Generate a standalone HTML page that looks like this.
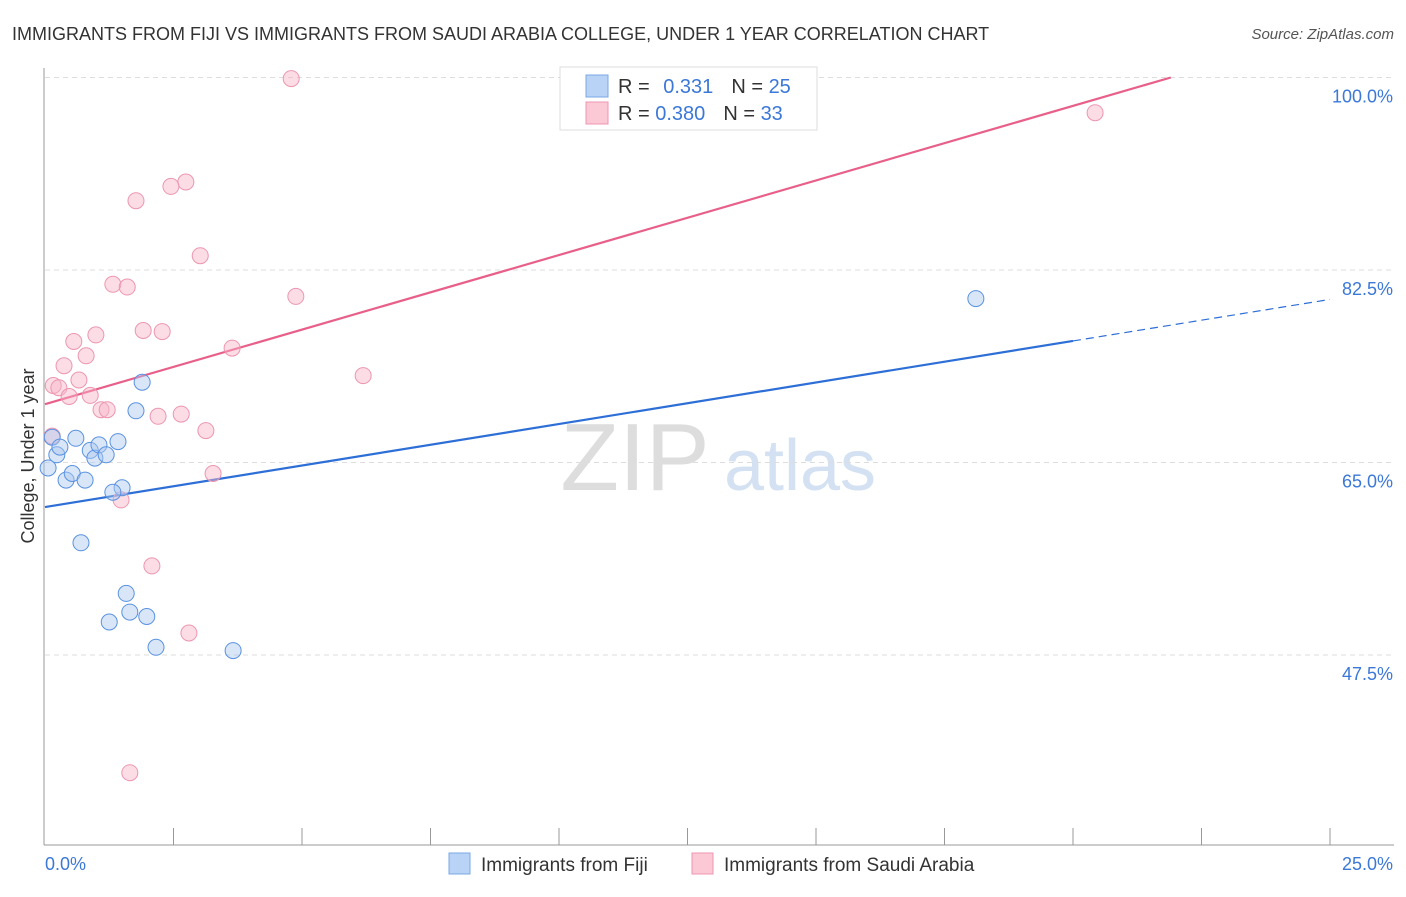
<!DOCTYPE html>
<html><head><meta charset="utf-8"><style>
body{margin:0;background:#fff;width:1406px;height:892px;overflow:hidden;font-family:"Liberation Sans",sans-serif}
text{font-family:"Liberation Sans",sans-serif}
</style></head><body>
<svg id="chart" width="1406" height="892">
<text x="12" y="40" font-size="18" fill="#333">IMMIGRANTS FROM FIJI VS IMMIGRANTS FROM SAUDI ARABIA COLLEGE, UNDER 1 YEAR CORRELATION CHART</text>
<text x="1394" y="39" font-size="15" fill="#555" font-style="italic" text-anchor="end">Source: ZipAtlas.com</text>
<g>
<text x="635" y="490" font-size="96" fill="#ddd" text-anchor="middle" font-family="Liberation Serif">ZIP</text>
<text x="800" y="490" font-size="72" fill="#d3e1f3" text-anchor="middle">atlas</text>
</g>
<g id="grid"></g><g id="axes"></g><g id="lines"></g><g id="pts"></g>
<text transform="translate(34,456) rotate(-90)" font-size="18" fill="#333" text-anchor="middle">College, Under 1 year</text>
<g>
<rect x="560" y="67" width="257" height="63" fill="#fff" stroke="#ddd"/>
<rect x="586" y="75" width="22" height="22" fill="#b8d3f5" stroke="#7aa8e6"/>
<rect x="586" y="102" width="22" height="22" fill="#fbc8d6" stroke="#ec96b0"/>
<text x="618" y="93" font-size="20" fill="#333">R = <tspan fill="#3b78d8" dx="8">0.331</tspan><tspan dx="18" fill="#333">N = </tspan><tspan fill="#3b78d8">25</tspan></text>
<text x="618" y="120" font-size="20" fill="#333">R = <tspan fill="#3b78d8">0.380</tspan><tspan dx="18" fill="#333">N = </tspan><tspan fill="#3b78d8">33</tspan></text>
</g>
<g>
<rect x="449" y="853" width="21" height="21" fill="#b8d3f5" stroke="#7aa8e6"/>
<text x="481" y="871" font-size="19" fill="#333">Immigrants from Fiji</text>
<rect x="692" y="853" width="21" height="21" fill="#fbc8d6" stroke="#ec96b0"/>
<text x="724" y="871" font-size="19" fill="#333">Immigrants from Saudi Arabia</text>
</g>
</svg>
<script>
const yTicks=[47.5,65.0,82.5,100.0];
const xTickLabels=["0.0%","25.0%"];
const fijiX=[0.06,0.14,0.23,0.41,0.53,0.60,0.78,0.88,0.97,1.05,1.19,1.42,1.50,1.32,1.89,1.77,0.70,1.58,1.25,1.65,1.98,2.16,3.66,18.11,0.29];
const fijiY=[64.5,67.3,65.7,63.4,64.0,67.2,63.4,66.1,65.4,66.6,65.7,66.9,62.7,62.3,72.3,69.7,57.7,53.1,50.5,51.4,51.0,48.2,47.9,79.9,66.4];
const saudiX=[4.79,20.43,2.74,2.45,1.77,3.02,1.32,1.60,4.88,1.91,2.28,0.99,0.56,0.80,3.64,0.37,6.19,0.66,0.16,0.27,0.88,0.47,1.09,1.21,2.20,2.65,3.13,0.14,3.27,1.48,2.08,2.80,1.65];
const saudiY=[99.9,96.8,90.5,90.1,88.8,83.8,81.2,80.95,80.1,77.0,76.9,76.6,76.0,74.7,75.4,73.8,72.9,72.5,72.0,71.8,71.1,71.0,69.8,69.8,69.2,69.4,67.9,67.4,64.0,61.6,55.6,49.5,36.8];
const fijiTrend=[60.95,0.755];
const saudiTrend=[70.3,1.356];
const NS="http://www.w3.org/2000/svg";
const X=v=>45+v/25*1285;
const Y=v=>77.5+(100-v)*11;
function mk(tag,attrs,parent){const e=document.createElementNS(NS,tag);for(const k in attrs)e.setAttribute(k,attrs[k]);document.getElementById(parent).appendChild(e);return e;}
yTicks.forEach(t=>{
 const l=mk('line',{x1:45,x2:1394,y1:Y(t),y2:Y(t),stroke:'#ddd','stroke-dasharray':'5,4'},'grid');
 
 
 const tx=mk('text',{x:1393,y:Y(t)+25,'font-size':18,fill:'#3b78d8','text-anchor':'end'},'grid');
 tx.textContent=t.toFixed(1)+'%';
 
 
});
const ax=mk('line',{x1:44,x2:44,y1:68,y2:845,stroke:'#999'},'axes');


const bx=mk('line',{x1:44,x2:1394,y1:845,y2:845,stroke:'#999'},'axes');


for(let i=1;i<=10;i++){
 const t=mk('line',{x1:X(i*2.5),x2:X(i*2.5),y1:828,y2:845,stroke:'#999'},'axes');
 
 
}
const xl0=mk('text',{x:45,y:870,'font-size':18,fill:'#3b78d8'},'axes');xl0.textContent=xTickLabels[0];


const xl1=mk('text',{x:1393,y:870,'font-size':18,fill:'#3b78d8','text-anchor':'end'},'axes');xl1.textContent=xTickLabels[1];


// trend lines
const f=x=>fijiTrend[0]+fijiTrend[1]*x, s=x=>saudiTrend[0]+saudiTrend[1]*x;
const fl=mk('line',{x1:X(0),y1:Y(f(0)),x2:X(20),y2:Y(f(20)),stroke:'#2d6fd6','stroke-width':2.2},'lines');


const fd=mk('line',{x1:X(20),y1:Y(f(20)),x2:X(25),y2:Y(f(25)),stroke:'#2d6fd6','stroke-width':1.2,'stroke-dasharray':'8,5'},'lines');


const xe=(100-saudiTrend[0])/saudiTrend[1];
const sl=mk('line',{x1:X(0),y1:Y(s(0)),x2:X(xe),y2:Y(100),stroke:'#e8608a','stroke-width':2.2},'lines');


saudiX.forEach((x,i)=>{
 const c=mk('circle',{cx:X(x),cy:Y(saudiY[i]),r:8,fill:'rgba(248,180,200,0.45)',stroke:'#ec96b0','stroke-width':1},'pts');
 
 
});
fijiX.forEach((x,i)=>{
 const c=mk('circle',{cx:X(x),cy:Y(fijiY[i]),r:8,fill:'rgba(170,200,240,0.45)',stroke:'#5a92e0','stroke-width':1},'pts');
 
 
});
</script>
</body></html>
